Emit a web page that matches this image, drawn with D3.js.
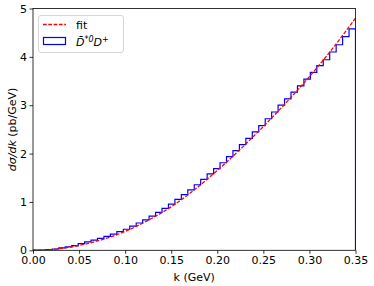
<!DOCTYPE html>
<html>
<head>
<meta charset="utf-8">
<script src="https://cdn.jsdelivr.net/npm/d3@7"></script>
<style>
  body { margin: 0; background: #fff; }
  text { font-family: "DejaVu Sans", sans-serif; }
</style>
</head>
<body>
<svg id="chart" width="374" height="286"></svg>
<script>
// histogram: 50 bins of width 0.007 GeV
const binEdges = d3.range(0, 51).map(i => +(i * 0.007).toFixed(3));
const histValues = [0.002, 0.006, 0.014, 0.027, 0.05, 0.072, 0.095, 0.14, 0.175, 0.21,
  0.245, 0.29, 0.335, 0.385, 0.435, 0.50, 0.565, 0.63, 0.705, 0.785,
  0.865, 0.955, 1.055, 1.15, 1.25, 1.355, 1.465, 1.58, 1.69, 1.81,
  1.935, 2.06, 2.185, 2.315, 2.45, 2.58, 2.72, 2.86, 3.00, 3.13,
  3.27, 3.40, 3.54, 3.68, 3.82, 3.94, 4.10, 4.25, 4.42, 4.58];

// fit curve
const fitK = [0, 0.025, 0.05, 0.075, 0.1, 0.125, 0.15, 0.175, 0.2, 0.225, 0.25, 0.275, 0.3, 0.325, 0.35];
const fitY = [0, 0.025, 0.10, 0.22, 0.39, 0.62, 0.90, 1.25, 1.65, 2.09, 2.56, 3.06, 3.59, 4.17, 4.8];

const xTicks = [0, 0.05, 0.1, 0.15, 0.2, 0.25, 0.3, 0.35];
const yTicks = [0, 1, 2, 3, 4, 5];

const mLeft = 33, mRight = 355.5, mTop = 8.5, mBottom = 250.3;
const fs = '11px';

const svg = d3.select('#chart');
const x = d3.scaleLinear().domain([0, 0.35]).range([mLeft, mRight]);
const y = d3.scaleLinear().domain([0, 5]).range([mBottom, mTop]);

svg.append('defs').append('clipPath').attr('id', 'plotclip')
    .append('rect')
    .attr('x', mLeft).attr('y', mTop)
    .attr('width', mRight - mLeft).attr('height', mBottom - mTop);

const plot = svg.append('g').attr('clip-path', 'url(#plotclip)');

// step outline
let pts = [[binEdges[0], 0]];
histValues.forEach((v, i) => {
    pts.push([binEdges[i], v]);
    pts.push([binEdges[i + 1], v]);
});
pts.push([binEdges[binEdges.length - 1], 0]);

plot.append('path')
    .attr('d', d3.line().x(d => x(d[0])).y(d => y(d[1]))(pts))
    .attr('fill', 'none')
    .attr('stroke', '#0000ff')
    .attr('stroke-width', 1.2);

plot.append('path')
    .attr('d', d3.line().x((d, i) => x(fitK[i])).y(d => y(d)).curve(d3.curveMonotoneX)(fitY))
    .attr('fill', 'none')
    .attr('stroke', '#ff0000')
    .attr('stroke-width', 1.3)
    .attr('stroke-dasharray', '3.7,1.6');

// axes
const xAxis = svg.append('g')
    .attr('transform', `translate(0,${mBottom})`)
    .call(d3.axisBottom(x).tickValues(xTicks).tickFormat(d3.format('.2f')).tickSize(3.5).tickPadding(2));
const yAxis = svg.append('g')
    .attr('transform', `translate(${mLeft},0)`)
    .call(d3.axisLeft(y).tickValues(yTicks).tickFormat(d3.format('d')).tickSize(3.5).tickPadding(2.5));

[xAxis, yAxis].forEach(a => {
    a.select('.domain').remove();
    a.selectAll('line').attr('stroke', '#000').attr('stroke-width', 0.8);
    a.selectAll('text')
        .attr('fill', '#000')
        .style('font-size', fs)
        .style('font-family', '"DejaVu Sans", sans-serif');
});

svg.append('rect')
    .attr('x', mLeft).attr('y', mTop)
    .attr('width', mRight - mLeft).attr('height', mBottom - mTop)
    .attr('fill', 'none')
    .attr('stroke', '#000')
    .attr('stroke-width', 0.8);

// axis labels
svg.append('text')
    .attr('x', (mLeft + mRight) / 2)
    .attr('y', 281)
    .attr('text-anchor', 'middle')
    .style('font-size', fs)
    .text('k (GeV)');

const yl = svg.append('text')
    .attr('transform', `translate(16,${(mTop + mBottom) / 2}) rotate(-90)`)
    .attr('text-anchor', 'middle')
    .style('font-size', fs);
yl.append('tspan').style('font-style', 'italic').text('dσ/dk');
yl.append('tspan').text(' (pb/GeV)');

// legend
const lg = svg.append('g');
lg.append('rect')
    .attr('x', 38.5).attr('y', 15.5)
    .attr('width', 85).attr('height', 37)
    .attr('rx', 2.5)
    .attr('fill', '#fff').attr('fill-opacity', 0.8)
    .attr('stroke', '#ccc').attr('stroke-width', 0.8);
lg.append('line')
    .attr('x1', 43).attr('x2', 66).attr('y1', 24.5).attr('y2', 24.5)
    .attr('stroke', '#ff0000').attr('stroke-width', 1.3)
    .attr('stroke-dasharray', '3.7,1.6');
lg.append('text')
    .attr('x', 76).attr('y', 28.5)
    .style('font-size', fs)
    .text('fit');
lg.append('rect')
    .attr('x', 43.5).attr('y', 37.5)
    .attr('width', 22).attr('height', 7)
    .attr('fill', 'none')
    .attr('stroke', '#0000ff').attr('stroke-width', 1.2);
const lab = lg.append('text')
    .attr('x', 76).attr('y', 46)
    .style('font-size', fs)
    .style('font-style', 'italic');
lab.append('tspan').text('D̄');
lab.append('tspan').attr('dy', -4).style('font-size', '8px').text('*0');
lab.append('tspan').attr('dy', 4).text('D');
lab.append('tspan').attr('dy', -4).style('font-size', '8px').style('font-style', 'normal').text('+');
</script>
</body>
</html>
